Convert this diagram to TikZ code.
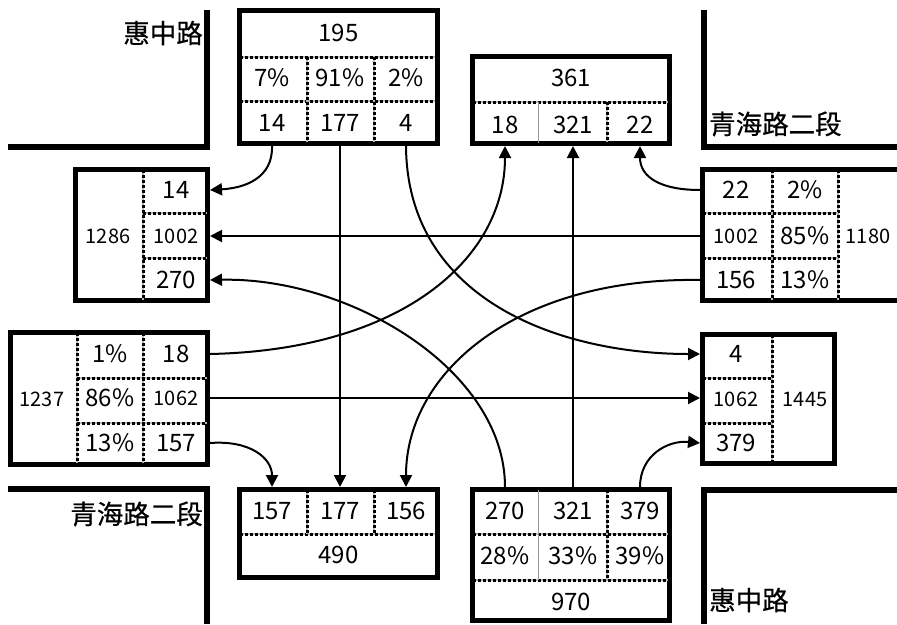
\documentclass[tikz,border=0pt]{standalone}
\usepackage{fontspec}
\setmainfont{Noto Sans CJK TC}
\newfontfamily\lblfont[FakeBold=0.6]{Noto Sans CJK TC}
\usetikzlibrary{arrows.meta}
\tikzset{
  box/.style={draw, line width=5pt, inner sep=0pt, rectangle},
  road/.style={line width=6pt, line cap=butt},
  divd/.style={line width=3pt, dash pattern=on 3pt off 2pt, preaction={draw=gray!55, line width=1.4pt, solid}},
  thinl/.style={draw=gray!80, line width=1pt},
  num/.style={inner sep=0pt, font=\fontsize{24}{28}\selectfont},
  bignum/.style={inner sep=0pt, font=\fontsize{20}{24}\selectfont},
  lbl/.style={inner sep=0pt, font=\lblfont\fontsize{26.5}{30}\selectfont},
  flow/.style={line width=2pt, -{Triangle[length=12pt,width=12pt]}}
}
\begin{document}
\begin{tikzpicture}[x=1pt,y=-1pt]
\useasboundingbox (0,0) rectangle (897,624);
% roads
\draw[road] (207,10) -- (207,147) -- (8,147);
\draw[road] (704,10) -- (704,147) -- (897,147);
\draw[road] (8,489) -- (207,489) -- (207,624);
\draw[road] (897,490) -- (704,490) -- (704,624);
% road labels
\node[lbl, anchor=east] (lNW) at (203,33) {惠中路};
\node[lbl, anchor=west] (lNE) at (709,124) {青海路二段};
\node[lbl, anchor=east] (lSW) at (203,514) {青海路二段};
\node[lbl, anchor=west] (lSE) at (709,600) {惠中路};
% boxes
\node[box, minimum width=198pt, minimum height=133pt] (N) at (338.5,77) {};
\node[box, minimum width=197pt, minimum height=87pt] (NE) at (571,100) {};
\node[box, minimum width=132pt, minimum height=131pt] (W1) at (141.5,235) {};
\node[box, minimum width=197pt, minimum height=132pt] (W2) at (109,398.5) {};
\node[box, minimum width=202.5pt, minimum height=131pt] (E1) at (803.75,235) {};
\node[box, minimum width=132pt, minimum height=129pt] (E2) at (768.5,399) {};
\node[box, minimum width=198pt, minimum height=88pt] (S) at (338.5,533.5) {};
\node[box, minimum width=197pt, minimum height=131pt] (SE) at (571,555) {};
% dividers N
\draw[divd] (240,57) -- (437,57);
\draw[divd] (240,101) -- (437,101);
\draw[divd] (307,57) -- (307,143);
\draw[divd] (374,57) -- (374,143);
% NE
\draw[divd] (473,102) -- (669,102);
\draw[thinl] (538,102) -- (538,143);
\draw[divd] (607,102) -- (607,143);
% W1
\draw[divd] (143,170) -- (143,300);
\draw[divd] (143,213) -- (207,213);
\draw[divd] (143,258) -- (207,258);
% W2
\draw[divd] (77,333) -- (77,464);
\draw[divd] (143,333) -- (143,464);
\draw[divd] (77,378) -- (207,378);
\draw[divd] (77,423) -- (207,423);
% E1
\draw[divd] (772,170) -- (772,300);
\draw[divd] (838,170) -- (838,300);
\draw[divd] (703,213) -- (838,213);
\draw[divd] (703,258) -- (838,258);
% E2
\draw[divd] (772,335) -- (772,463);
\draw[divd] (703,378) -- (772,378);
\draw[divd] (703,423) -- (772,423);
% S
\draw[divd] (240,534) -- (437,534);
\draw[divd] (307,490) -- (307,534);
\draw[divd] (374,490) -- (374,534);
% SE
\draw[divd] (473,534) -- (669,534);
\draw[divd] (473,580) -- (669,580);
\draw[thinl] (538,490) -- (538,580);
\draw[divd] (607,490) -- (607,580);
% texts N
\node[num] (nT) at (338.5,33) {195};
\node[num] (np1) at (272,78) {7\%};
\node[num] (np2) at (340,78) {91\%};
\node[num] (np3) at (406,78) {2\%};
\node[num] (n1) at (272,123) {14};
\node[num] (n2) at (340,123) {177};
\node[num] (n3) at (406,123) {4};
% NE
\node[num] (neT) at (571,78) {361};
\node[num] (ne1) at (505,125) {18};
\node[num] (ne2) at (573,125) {321};
\node[num] (ne3) at (640,125) {22};
% W1
\node[bignum] (w1T) at (108,236) {1286};
\node[num] (w11) at (176,190) {14};
\node[bignum] (w12) at (176,236) {1002};
\node[num] (w13) at (176,280) {270};
% W2
\node[bignum] (w2T) at (42,399) {1237};
\node[num] (w2p1) at (110,354) {1\%};
\node[num] (w21) at (176,354) {18};
\node[num] (w2p2) at (110,398) {86\%};
\node[bignum] (w22) at (176,398) {1062};
\node[num] (w2p3) at (110,443) {13\%};
\node[num] (w23) at (176,443) {157};
% E1
\node[num] (e11) at (736,190) {22};
\node[num] (e1p1) at (805,190) {2\%};
\node[bignum] (e12) at (736,236) {1002};
\node[num] (e1p2) at (805,236) {85\%};
\node[num] (e13) at (736,280) {156};
\node[num] (e1p3) at (805,280) {13\%};
\node[bignum] (e1T) at (868,236) {1180};
% E2
\node[num] (e21) at (736,354) {4};
\node[bignum] (e22) at (736,399) {1062};
\node[num] (e23) at (736,443) {379};
\node[bignum] (e2T) at (805,399) {1445};
% S
\node[num] (s1) at (272,511) {157};
\node[num] (s2) at (340,511) {177};
\node[num] (s3) at (406,511) {156};
\node[num] (sT) at (338.5,555) {490};
% SE
\node[num] (se1) at (505,511) {270};
\node[num] (se2) at (573,511) {321};
\node[num] (se3) at (640,511) {379};
\node[num] (sep1) at (505,556) {28\%};
\node[num] (sep2) at (573,556) {33\%};
\node[num] (sep3) at (640,556) {39\%};
\node[num] (seT) at (571,602) {970};
% flows
\draw[flow] (n1 |- N.south) .. controls (273,178) and (245,188) .. (W1.east |- w11);
\draw[flow] (n2 |- N.south) -- (n2 |- S.north);
\draw[flow] (n3 |- N.south) .. controls (407,300) and (560,354) .. (E2.west |- e21);
\draw[flow] (E1.west |- e11) .. controls (662,190) and (640,178) .. (ne3 |- NE.south);
\draw[flow] (E1.west |- e12) -- (W1.east |- e12);
\draw[flow] (E1.west |- e13) .. controls (520,277) and (406,370) .. (s3 |- S.north);
\draw[flow] (W2.east |- w21) .. controls (400,350) and (505,260) .. (ne1 |- NE.south);
\draw[flow] (W2.east |- w22) -- (E2.west |- w22);
\draw[flow] (W2.east |- w23) .. controls (250,440) and (272,458) .. (s1 |- S.north);
\draw[flow] (se1 |- SE.north) .. controls (505,370) and (350,277) .. (W1.east |- w13);
\draw[flow] (se2 |- SE.north) -- (se2 |- NE.south);
\draw[flow] (se3 |- SE.north) .. controls (640,455) and (668,440) .. (E2.west |- e23);
\end{tikzpicture}
\end{document}
